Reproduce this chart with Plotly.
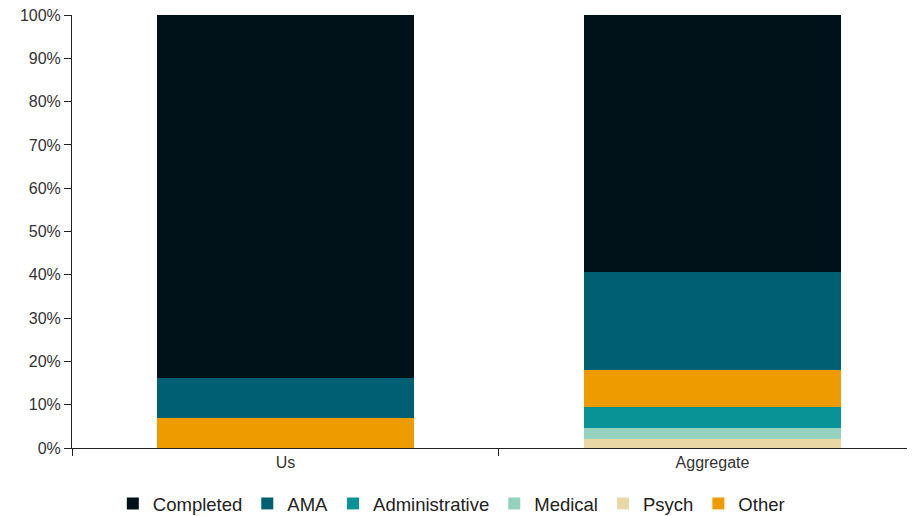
import plotly.graph_objects as go

# --- data ---
groups = ["Us", "Aggregate"]
# stacked bottom -> top
series = ["Psych", "Medical", "Administrative", "Other", "AMA", "Completed"]
psych = [0, 2.0]
medical = [0, 2.6]
administrative = [0, 4.9]
other = [7.0, 8.4]
ama = [9.2, 22.7]
completed = [83.8, 59.4]
y_ticks = list(range(0, 101, 10))
y_labels = [f"{t}%" for t in y_ticks]

values = [psych, medical, administrative, other, ama, completed]
colors = ["#e9d8a6", "#94d2bd", "#0a9396", "#ee9b00", "#005f73", "#001219"]
legend_rank = [5, 4, 3, 6, 2, 1]

fig = go.Figure()
for name, vals, col, rank in zip(series, values, colors, legend_rank):
    fig.add_trace(go.Bar(
        x=groups, y=vals, name=name,
        marker=dict(color=col, line=dict(width=0)),
        width=0.6, legendrank=rank,
    ))

FONT = "Liberation Sans, Arial, sans-serif"

# page body has an 8px margin, so the figure is shifted by (8, 8)
fig.update_layout(
    barmode="stack",
    width=915, height=516,
    margin=dict(l=64, r=0, t=7, b=76, autoexpand=False),
    plot_bgcolor="white", paper_bgcolor="white",
    font=dict(family=FONT, size=16, color="#333"),
    legend=dict(
        orientation="h", xref="container", x=0.4845, xanchor="center",
        yref="container", y=0.039, yanchor="middle",
        font=dict(family=FONT, size=18.5, color="#222"),
        itemclick=False, traceorder="normal",
    ),
    xaxis=dict(
        type="category", range=[-0.5, 1.493], automargin=False,
        showline=True, linecolor="#222", linewidth=1,
        ticks="outside", tickson="boundaries", ticklen=7, tickcolor="#222",
        showgrid=False, zeroline=False,
    ),
    yaxis=dict(
        range=[0, 100], tickvals=y_ticks, ticktext=y_labels, automargin=False,
        ticklabeloverflow="allow",
        showline=True, linecolor="#222", linewidth=1,
        ticks="outside", ticklen=7, tickcolor="#222",
        showgrid=False, zeroline=False,
    ),
)

fig.write_html("out.html")
